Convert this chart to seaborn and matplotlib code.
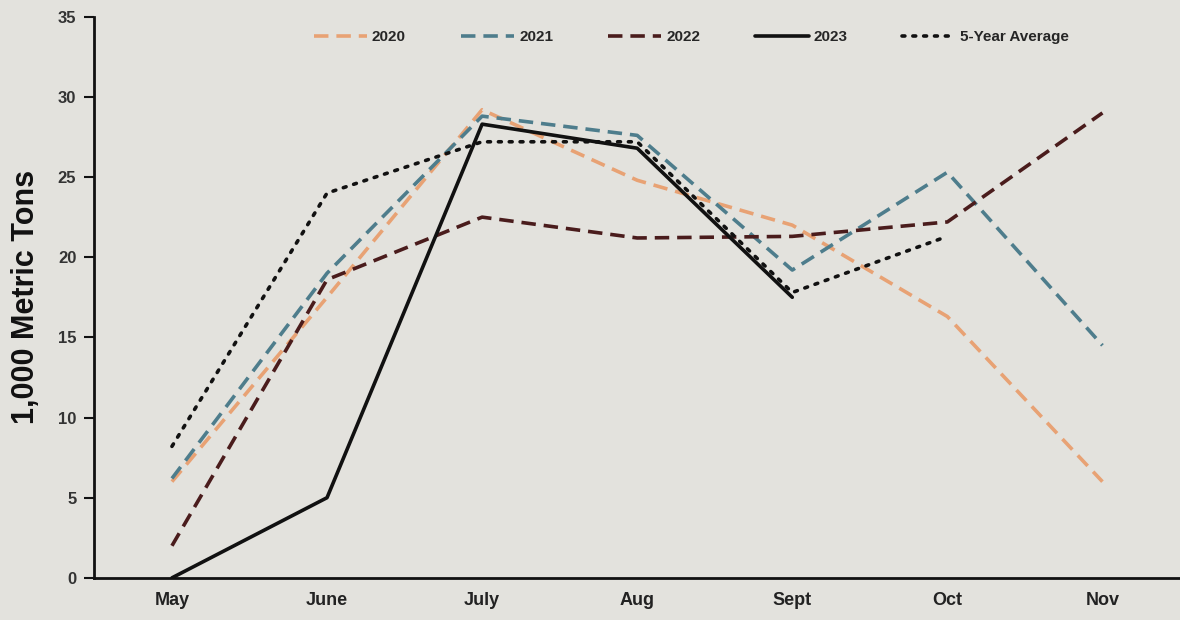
import matplotlib
matplotlib.use("Agg")
import matplotlib.pyplot as plt
import seaborn as sns
import pandas as pd
import numpy as np

months = ["May", "June", "July", "Aug", "Sept", "Oct", "Nov"]
y2020 = [6.0, 17.5, 29.2, 24.8, 22.0, 16.3, 6.0]
y2021 = [6.2, 19.0, 28.8, 27.6, 19.2, 25.3, 14.5]
y2022 = [2.0, 18.6, 22.5, 21.2, 21.3, 22.2, 29.0]
y2023 = [0.0, 5.0, 28.3, 26.8, 17.5]
avg5 = [8.2, 24.0, 27.2, 27.2, 17.8, 21.3]
y_ticks = [0, 5, 10, 15, 20, 25, 30, 35]

sns.set_theme(style="white")
plt.rcParams['font.family'] = ['Liberation Sans', 'DejaVu Sans']

bg = "#E3E2DD"
fig = plt.figure(figsize=(11.8, 6.2), dpi=100, facecolor=bg)
ax = fig.add_axes([0.08, 0.068, 0.92, 0.905], facecolor=bg)

series = [
    ("2020", y2020, "#E8A274", (4, 2.2)),
    ("2021", y2021, "#4E7D8C", (4, 2.2)),
    ("2022", y2022, "#4A1C1C", (4, 2.2)),
    ("2023", y2023, "#111111", None),
    ("5-Year Average", avg5, "#111111", (0.8, 2.2)),
]

for name, vals, col, dash in series:
    df = pd.DataFrame({"month": months[:len(vals)], "value": vals})
    sns.lineplot(data=df, x="month", y="value", ax=ax, color=col,
                 linewidth=2.6, label=name, sort=False)
    l = ax.get_lines()[-1]
    if dash is not None:
        l.set_dashes(dash)
        if name == "5-Year Average":
            l.set_dash_capstyle("round")

ax.set_xlim(-0.5, 6.5)
ax.set_ylim(0, 35)
ax.set_yticks(y_ticks)
ax.set_yticklabels([str(t) for t in y_ticks], fontsize=12, fontweight="bold", color="#333333")
ax.set_xticks(range(len(months)))
ax.set_xticklabels(months, fontsize=13, fontweight="bold", color="#222222")
ax.set_xticks(np.arange(0.5, 6.5, 1.0), minor=True)
ax.tick_params(axis="x", which="major", length=0, pad=10)
ax.tick_params(axis="x", which="minor", length=7, width=1.5, direction="inout", color="#111111")
ax.tick_params(axis="y", which="major", length=7, width=1.5, direction="out", color="#111111", left=True, pad=6)

for s in ["top", "right"]:
    ax.spines[s].set_visible(False)
for s in ["left", "bottom"]:
    ax.spines[s].set_color("#111111")
    ax.spines[s].set_linewidth(2)

ax.set_xlabel("")
ax.set_ylabel("1,000 Metric Tons", fontsize=22, fontweight="bold", color="#111111", labelpad=12)

leg = ax.legend(loc="upper center", bbox_to_anchor=(0.55, 1.0), ncol=5, frameon=False,
                fontsize=11, handlelength=3.5, columnspacing=3.6, handletextpad=0.3)
for t in leg.get_texts():
    t.set_fontweight("bold")

fig.savefig("out.png", dpi=100, facecolor=bg)
